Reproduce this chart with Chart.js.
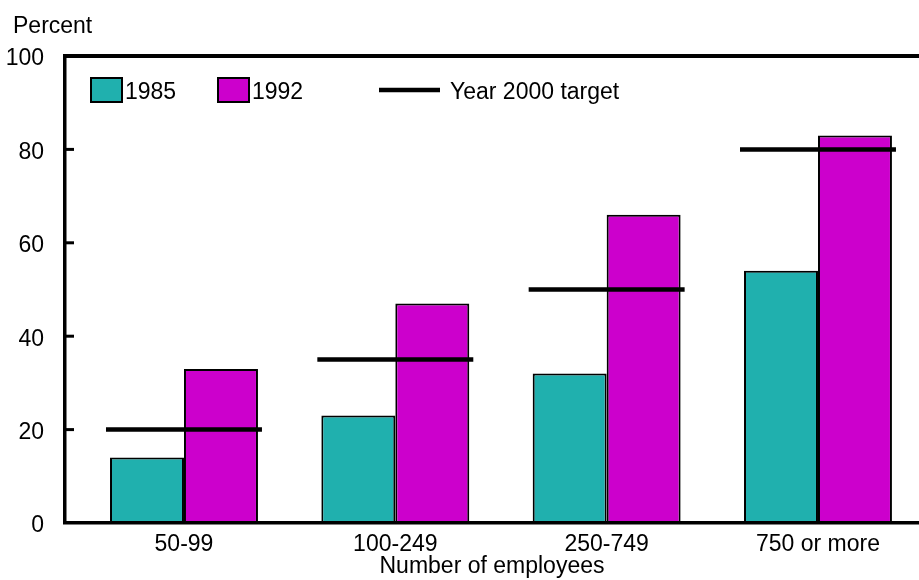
<!DOCTYPE html>
<html>
<head>
<meta charset="utf-8">
<script src="https://cdn.jsdelivr.net/npm/chart.js@4/dist/chart.umd.min.js"></script>
<style>
  html, body { margin: 0; padding: 0; background: #fff; }
  #wrap { width: 919px; height: 580px; position: relative; }
</style>
</head>
<body>
<div id="wrap"><canvas id="c" width="919" height="580"></canvas></div>
<script>
// ---- data ----
const categories = ['50-99', '100-249', '250-749', '750 or more'];
const values1985 = [14, 23, 32, 54];
const values1992 = [33, 47, 66, 83];
const target2000 = [20, 35, 50, 80];
const yTickValues = [0, 20, 40, 60, 80, 100];
const seriesNames = ['1985', '1992', 'Year 2000 target'];
const yAxisLabel = 'Percent';
const xAxisLabel = 'Number of employees';

// ---- style ----
const FONT = '"Liberation Sans", Arial, Helvetica, sans-serif';
const FS = 23;
const TEAL = '#20B0AE';
const MAGENTA = '#CC00CC';
const TARGET_HALF = 0.369; // half-width of target segment in category units

const targetPoints = [];
target2000.forEach((t, i) => {
  targetPoints.push({ x: i - TARGET_HALF, y: t });
  targetPoints.push({ x: i + TARGET_HALF, y: t });
  targetPoints.push({ x: i + 0.5, y: null });
});

const framePlugin = {
  id: 'frame',
  afterDraw(chart) {
    const ctx = chart.ctx;
    const a = chart.chartArea;
    const ys = chart.scales.y;
    ctx.save();
    // top frame line
    ctx.strokeStyle = '#000';
    ctx.lineWidth = 4;
    ctx.beginPath();
    ctx.moveTo(a.left - 1.75, a.top);
    ctx.lineTo(chart.width, a.top);
    ctx.stroke();
    // inward ticks on y axis
    ctx.lineWidth = 3;
    yTickValues.forEach(v => {
      if (v === 0 || v === 100) return;
      const y = ys.getPixelForValue(v);
      ctx.beginPath();
      ctx.moveTo(a.left, y);
      ctx.lineTo(a.left + 9, y);
      ctx.stroke();
    });
    // y-axis label
    ctx.fillStyle = '#000';
    ctx.font = FS + 'px ' + FONT;
    ctx.textBaseline = 'alphabetic';
    ctx.textAlign = 'left';
    ctx.fillText(yAxisLabel, 13, 33);
    // legend
    const ds = chart.data.datasets;
    const legY = 90;
    const items = [
      { x: 91, ds: ds[0] },
      { x: 218, ds: ds[1] },
      { x: 379, ds: ds[2] }
    ];
    items.forEach(it => {
      if (it.ds.type === 'line') {
        ctx.strokeStyle = '#000';
        ctx.lineWidth = 4.5;
        ctx.beginPath();
        ctx.moveTo(it.x, legY);
        ctx.lineTo(it.x + 61, legY);
        ctx.stroke();
        ctx.fillStyle = '#000';
        ctx.fillText(it.ds.label, it.x + 71, legY + 9);
      } else {
        ctx.fillStyle = it.ds.backgroundColor;
        ctx.fillRect(it.x, legY - 12, 31, 24);
        ctx.strokeStyle = '#000';
        ctx.lineWidth = 2;
        ctx.strokeRect(it.x, legY - 12, 31, 24);
        ctx.fillStyle = '#000';
        ctx.fillText(it.ds.label, it.x + 34, legY + 9);
      }
    });
    ctx.restore();
  }
};

new Chart(document.getElementById('c'), {
  type: 'bar',
  data: {
    datasets: [
      {
        label: seriesNames[0],
        data: values1985.map((v, i) => ({ x: i, y: v })),
        backgroundColor: TEAL,
        borderColor: '#000',
        borderWidth: 2,
        borderSkipped: false,
        order: 1
      },
      {
        label: seriesNames[1],
        data: values1992.map((v, i) => ({ x: i, y: v })),
        backgroundColor: MAGENTA,
        borderColor: '#000',
        borderWidth: 2,
        borderSkipped: false,
        order: 1
      },
      {
        type: 'line',
        label: seriesNames[2],
        data: targetPoints,
        borderColor: '#000',
        backgroundColor: '#000',
        borderWidth: 4.5,
        borderCapStyle: 'butt',
        pointRadius: 0,
        spanGaps: false,
        fill: false,
        order: 0
      }
    ]
  },
  options: {
    responsive: false,
    animation: false,
    devicePixelRatio: 1,
    categoryPercentage: 0.7,
    barPercentage: 1,
    layout: { padding: { top: 56, left: 0, right: 0, bottom: 0 } },
    plugins: {
      legend: { display: false },
      tooltip: { enabled: false },
      title: { display: false }
    },
    scales: {
      x: {
        type: 'linear',
        offset: false,
        min: -0.563,
        max: 3.478,
        afterBuildTicks: s => { s.ticks = categories.map((_, i) => ({ value: i })); },
        afterFit: s => { s.height = 57; },
        grid: { display: false, drawTicks: false, offset: false },
        border: { display: true, color: '#000', width: 3.5, z: 1 },
        ticks: {
          autoSkip: false,
          maxRotation: 0,
          padding: 8,
          color: '#000',
          font: { family: FONT, size: FS },
          callback: v => categories[v] !== undefined ? categories[v] : ''
        },
        title: {
          display: true,
          text: xAxisLabel,
          color: '#000',
          font: { family: FONT, size: FS },
          padding: { top: 0, bottom: 0 }
        }
      },
      y: {
        min: 0,
        max: 100,
        afterBuildTicks: s => { s.ticks = yTickValues.map(v => ({ value: v })); },
        afterFit: s => { s.width = 65; },
        grid: { display: false, drawTicks: false },
        border: { display: true, color: '#000', width: 3.5, z: 1 },
        ticks: {
          padding: 21,
          labelOffset: 3,
          color: '#000',
          font: { family: FONT, size: FS }
        }
      }
    }
  },
  plugins: [framePlugin]
});
</script>
</body>
</html>
